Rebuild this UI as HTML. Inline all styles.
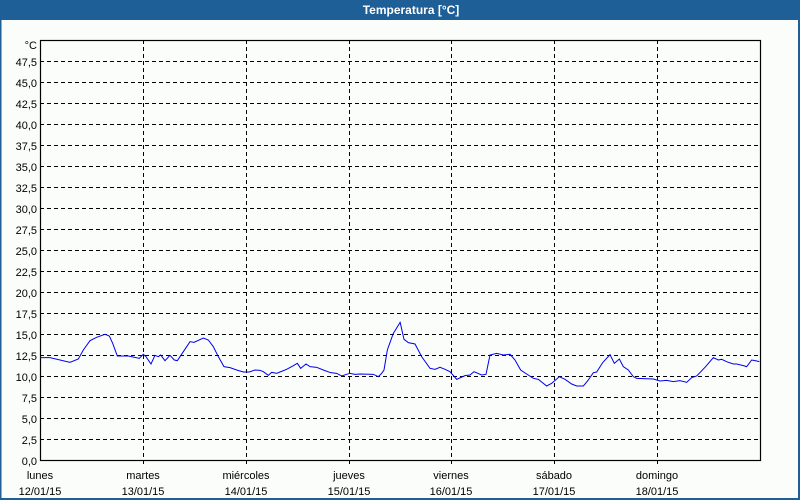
<!DOCTYPE html>
<html><head><meta charset="utf-8"><style>
body{margin:0;width:800px;height:500px;overflow:hidden;background:#fbfdfb}
svg{display:block}
text{font-family:"Liberation Sans",sans-serif;font-size:11px;fill:#000}
</style></head><body>
<svg width="800" height="500" viewBox="0 0 800 500">
<rect x="0" y="0" width="800" height="500" fill="#fbfdfb"/>
<rect x="0" y="0" width="800" height="20" fill="#1d5f96"/>
<rect x="0" y="0" width="1.5" height="500" fill="#1d5f96"/>
<rect x="798" y="0" width="2" height="500" fill="#1d5f96"/>
<rect x="0" y="498" width="800" height="2" fill="#1d5f96"/>
<text x="411" y="14" text-anchor="middle" style="font-weight:bold;fill:#fff;font-size:12px">Temperatura [°C]</text>
<g stroke="#000" stroke-dasharray="4,3" stroke-width="1">
<path d="M40 61.5H760M40 82.5H760M40 103.5H760M40 124.5H760M40 145.5H760M40 166.5H760M40 187.5H760M40 208.5H760M40 229.5H760M40 250.5H760M40 271.5H760M40 292.5H760M40 313.5H760M40 334.5H760M40 355.5H760M40 376.5H760M40 397.5H760M40 418.5H760M40 439.5H760"/>
<path d="M143.5 40V465M246.5 40V465M349.5 40V465M451.5 40V465M554.5 40V465M657.5 40V465"/>
</g>
<rect x="40.5" y="40.5" width="720" height="420" fill="none" stroke="#000" stroke-width="1.2"/>
<g text-anchor="end">
<text x="37" y="49">°C</text>
<text x="37" y="66">47,5</text><text x="37" y="87">45,0</text><text x="37" y="108">42,5</text><text x="37" y="129">40,0</text><text x="37" y="150">37,5</text><text x="37" y="171">35,0</text><text x="37" y="192">32,5</text><text x="37" y="213">30,0</text><text x="37" y="234">27,5</text><text x="37" y="255">25,0</text><text x="37" y="276">22,5</text><text x="37" y="297">20,0</text><text x="37" y="318">17,5</text><text x="37" y="339">15,0</text><text x="37" y="360">12,5</text><text x="37" y="381">10,0</text><text x="37" y="402">7,5</text><text x="37" y="423">5,0</text><text x="37" y="444">2,5</text><text x="37" y="465">0,0</text>
</g>
<g text-anchor="middle">
<text x="40" y="479">lunes</text><text x="40" y="495">12/01/15</text>
<text x="143" y="479">martes</text><text x="143" y="495">13/01/15</text>
<text x="246" y="479">miércoles</text><text x="246" y="495">14/01/15</text>
<text x="349" y="479">jueves</text><text x="349" y="495">15/01/15</text>
<text x="451" y="479">viernes</text><text x="451" y="495">16/01/15</text>
<text x="554" y="479">sábado</text><text x="554" y="495">17/01/15</text>
<text x="657" y="479">domingo</text><text x="657" y="495">18/01/15</text>
</g>
<g transform="translate(40,310) scale(0.33333)">
<polyline fill="none" stroke="#0000ee" stroke-width="1" vector-effect="non-scaling-stroke" points="0,143 30,143 90,157 115,147 130,120 150,92 170,82 195,73 208,78 218,100 232,138 265,138 298,145 310,133 318,140 333,162 345,136 355,140 362,135 375,152 390,136 403,150 412,152 430,125 450,95 462,97 490,84 505,90 520,110 535,140 552,170 570,173 590,180 610,186 628,186 645,180 660,181 670,185 685,196 695,187 710,190 720,186 740,178 760,167 772,160 782,175 798,162 810,170 830,172 850,180 872,188 890,190 905,198 920,193 930,190 945,193 960,192 1000,193 1015,200 1025,190 1032,180 1042,120 1060,70 1080,38"/>
</g>
<g transform="translate(400,310) scale(0.33333)">
<polyline fill="none" stroke="#0000ee" stroke-width="1" vector-effect="non-scaling-stroke" points="0,35 12,88 25,98 45,102 65,140 90,175 105,178 120,172 135,178 150,185 170,208 195,197 210,195 222,185 245,195 258,193 270,135 290,130 310,135 330,133 345,150 362,180 380,192 400,205 415,208 440,228 455,220 478,200 495,208 515,222 530,228 550,228 565,210 580,188 590,186 608,158 630,134 643,160 658,147 670,170 685,180 700,200 710,205 760,207 780,213 800,211 820,215 840,212 860,217 875,203 890,198 915,172 940,143 955,150 965,148 980,155 1000,162 1010,162 1030,167 1040,170 1055,150 1065,152 1078,155"/>
</g>
</svg>
</body></html>
